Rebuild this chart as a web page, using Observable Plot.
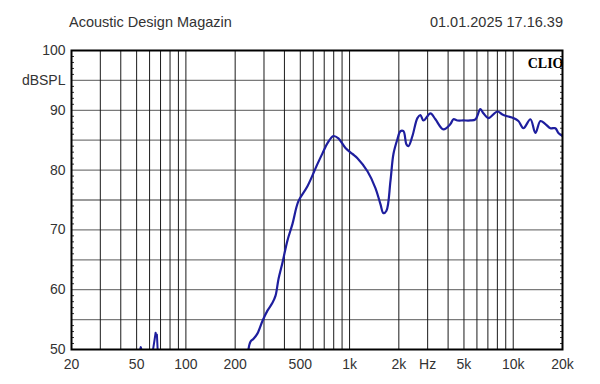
<!DOCTYPE html>
<html><head><meta charset="utf-8">
<script src="https://cdn.jsdelivr.net/npm/d3@7"></script>
<script src="https://cdn.jsdelivr.net/npm/@observablehq/plot@0.6"></script>
<style>
body{margin:0;background:#fff;font-family:"Liberation Sans",Arial,sans-serif;}
#hdr{position:relative;width:600px;height:40px;font-size:14.5px;color:#333;}
#hdr .l{position:absolute;left:69px;top:14px;}
#hdr .r{position:absolute;right:37px;top:14px;}
</style></head><body>
<div id="hdr"><span class="l" id="t1"></span><span class="r" id="t2"></span></div>
<div id="chart"></div>
<script>
const titleText = "Acoustic Design Magazin";
const dateText = "01.01.2025 17.16.39";
const brandText = "CLIO";

const xTickValues = [20, 50, 100, 200, 500, 1000, 2000, 3000, 5000, 10000, 20000];
const xTickLabels = ["20", "50", "100", "200", "500", "1k", "2k", "Hz", "5k", "10k", "20k"];
const yTickValues = [50, 60, 70, 80, 90, 95, 100];
const yTickLabels = ["50", "60", "70", "80", "90", "dBSPL", "100"];
const xGrid = [30, 40, 50, 60, 70, 80, 90, 100, 200, 300, 400, 500, 600, 700, 800, 900, 1000,
  2000, 3000, 4000, 5000, 6000, 7000, 8000, 9000, 10000];
const yGrid = [55, 60, 65, 70, 75, 80, 85, 90, 95];
const yMinor = [51,52,53,54,56,57,58,59,61,62,63,64,66,67,68,69,71,72,73,74,76,77,78,79,81,82,83,84,86,87,88,89,91,92,93,94,96,97,98,99];

const blipF = [52.5, 53, 53.5];
const blipDb = [50, 50.4, 50];
const spikeF = [63, 64.5, 65.3, 66, 66.5, 67.2];
const spikeDb = [50, 51.8, 52.8, 52.3, 52.5, 50];
const mainF = [241, 248, 259, 274, 294, 315, 338, 353, 368, 389, 417, 448, 487, 553, 636, 683, 733, 797, 855, 944,
  1041, 1117, 1286, 1439, 1544, 1610, 1680, 1778, 1854, 1962, 2045, 2134, 2226, 2290, 2422, 2597, 2710, 2828,
  3120, 3346, 3745, 4134, 4311, 4560, 4962, 5476, 5876, 6300, 6573, 7052, 8004, 8590, 9212, 10020, 10756,
  11538, 12738, 13662, 14656, 15724, 16872, 18098, 18880, 20000];
const mainDb = [50, 51.3, 51.8, 52.7, 54.8, 56.5, 57.8, 59, 61.8, 64.5, 68.2, 71, 74.8, 77.3, 81, 82.8, 84.5, 85.7, 85.3, 83.7,
  82.7, 82, 79.8, 77, 74.3, 72.8, 73.2, 78.2, 82.7, 85.2, 86.5, 86.5, 84.3, 84, 85.7, 88.7, 89.2, 88.3,
  89.5, 88.5, 86.8, 87.7, 88.5, 88.3, 88.3, 88.3, 88.5, 90.2, 89.5, 88.7, 89.8, 89.3, 89, 88.7, 88.2,
  87, 88.5, 86.2, 88.2, 87.7, 87, 87, 86.2, 85.7];

document.getElementById("t1").textContent = titleText;
document.getElementById("t2").textContent = dateText;

const zip = (fs, ds) => fs.map((f, i) => ({f, db: ds[i]}));
const xLabels = xTickValues.map((v, i) => ({v, label: xTickLabels[i]}));
const lineColor = "#1e1e9e";

const chart = Plot.plot({
  width: 600,
  height: 344,
  marginTop: 10,
  marginBottom: 35,
  marginLeft: 71,
  marginRight: 38,
  style: {fontFamily: "'Liberation Sans', Arial, sans-serif", fontSize: "14px", color: "#333", background: "#fff"},
  x: {type: "log", domain: [20, 20000], axis: null},
  y: {domain: [50, 100]},
  marks: [
    Plot.gridY(yGrid, {stroke: "#7a7a7a", strokeOpacity: 1, strokeWidth: 1.3}),
    Plot.gridX(xGrid, {stroke: "#1a1a1a", strokeOpacity: 1, strokeWidth: 1}),
    Plot.text(xLabels, {x: "v", text: "label", frameAnchor: "bottom", lineAnchor: "top", dy: 10, fontSize: 14, fill: "#333"}),
    Plot.axisY({ticks: yTickValues, tickFormat: d => yTickLabels[yTickValues.indexOf(d)], tickSize: 0, tickPadding: 6, label: null, fontSize: 14}),
    Plot.axisY({ticks: yMinor, anchor: "left", tickSize: -3, tickFormat: () => "", label: null}),
    Plot.axisY({ticks: yMinor, anchor: "right", tickSize: -3, tickFormat: () => "", label: null}),
    Plot.line(zip(blipF, blipDb), {x: "f", y: "db", stroke: lineColor, strokeWidth: 2, clip: true}),
    Plot.line(zip(spikeF, spikeDb), {x: "f", y: "db", stroke: lineColor, strokeWidth: 2, clip: true}),
    Plot.line(zip(mainF, mainDb), {x: "f", y: "db", stroke: lineColor, strokeWidth: 2.2, curve: "catmull-rom", clip: true}),
    Plot.frame({stroke: "#000", strokeWidth: 2}),
    Plot.text([brandText], {frameAnchor: "top-right", text: d => d, dx: 1, dy: 8, fontFamily: "'Liberation Serif', serif", fontWeight: "bold", fontSize: 14, fill: "#000"})
  ]
});
document.getElementById("chart").appendChild(chart);
</script>
</body></html>
